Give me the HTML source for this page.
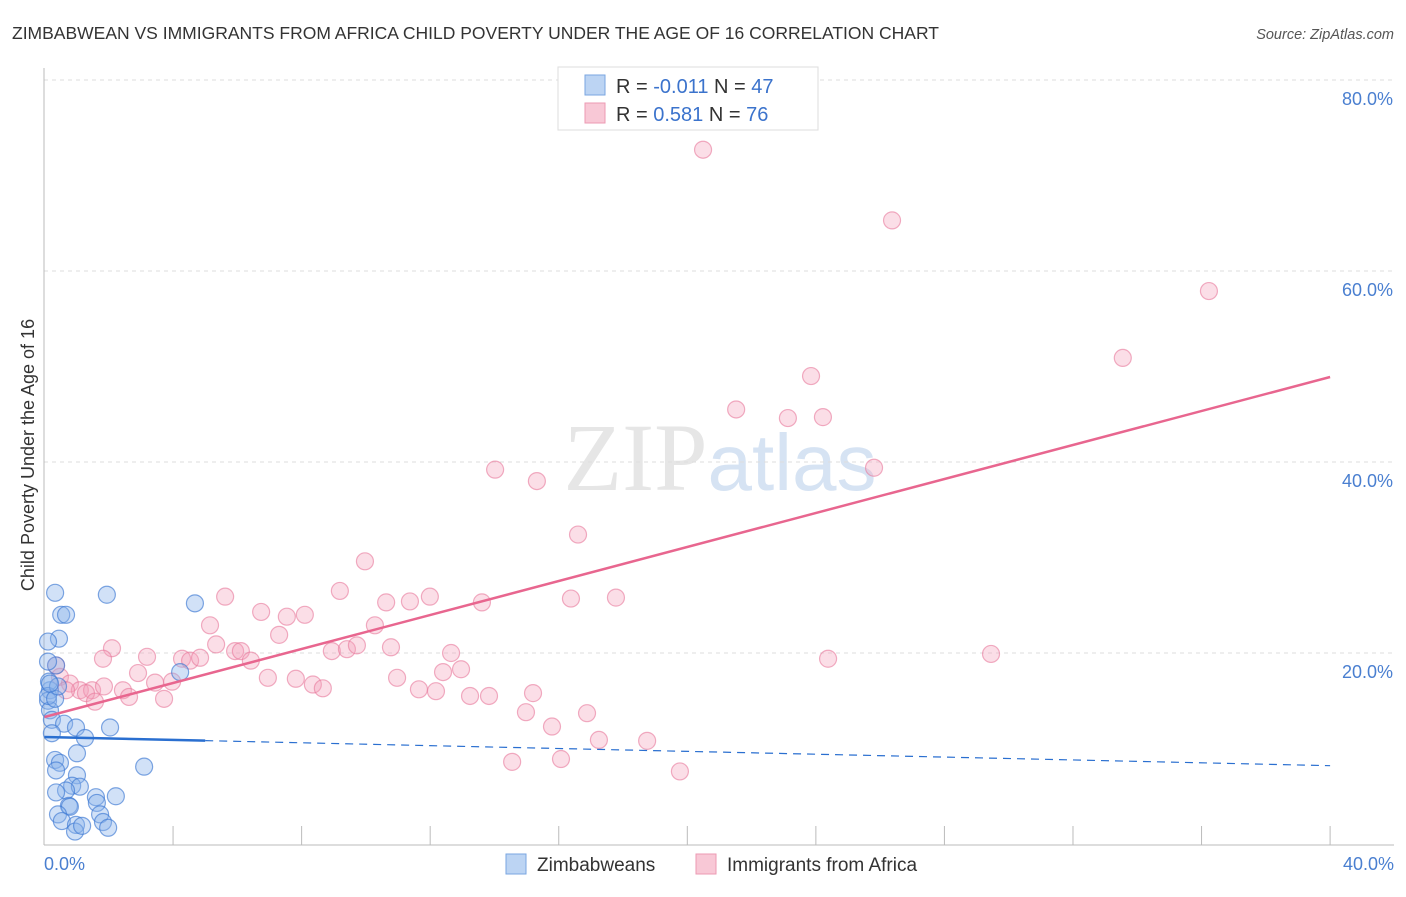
<!DOCTYPE html>
<html><head><meta charset="utf-8"><style>
body{margin:0;background:#fff;font-family:"Liberation Sans",sans-serif;}
svg text{font-family:"Liberation Sans",sans-serif;}
</style></head><body>
<svg id="chart" width="1406" height="892" xmlns="http://www.w3.org/2000/svg">
<text x="12" y="39" font-size="17.5" fill="#333">ZIMBABWEAN VS IMMIGRANTS FROM AFRICA CHILD POVERTY UNDER THE AGE OF 16 CORRELATION CHART</text>
<text x="1394" y="39" font-size="14.5" fill="#555" font-style="italic" text-anchor="end">Source: ZipAtlas.com</text>
<text x="720" y="490" font-size="96" fill="#e6e6e6" text-anchor="middle" font-family="Liberation Serif"><tspan font-family="Liberation Serif">ZIP</tspan><tspan fill="#d6e3f3" font-size="80" font-family="Liberation Sans">atlas</tspan></text>
<g id="grid"></g><g id="ticks"></g>
<line x1="44" y1="68" x2="44" y2="845" stroke="#bbb"/>
<line x1="44" y1="845" x2="1394" y2="845" stroke="#bbb"/>
<text transform="translate(34,455) rotate(-90)" font-size="18" fill="#333" text-anchor="middle">Child Poverty Under the Age of 16</text>
<text x="44" y="870" font-size="18" fill="#4a7fd0">0.0%</text>
<text x="1394" y="870" font-size="18" fill="#4a7fd0" text-anchor="end">40.0%</text>
<g id="pts"></g><g id="lines"></g>
<g>
<rect x="558" y="67" width="260" height="63" fill="#fff" stroke="#ddd"/>
<rect x="585" y="75" width="20" height="20" fill="#bcd4f3" stroke="#7aa6e0"/>
<rect x="585" y="103" width="20" height="20" fill="#f8c8d6" stroke="#ec9ab3"/>
<text x="616" y="93" font-size="20" fill="#333">R = <tspan fill="#3b73cc">-0.011</tspan>   N = <tspan fill="#3b73cc">47</tspan></text>
<text x="616" y="121" font-size="20" fill="#333">R =  <tspan fill="#3b73cc">0.581</tspan>   N = <tspan fill="#3b73cc">76</tspan></text>
</g>
<g>
<rect x="506" y="854" width="20" height="20" fill="#bcd4f3" stroke="#7aa6e0"/>
<text x="537" y="871" font-size="19" fill="#333">Zimbabweans</text>
<rect x="696" y="854" width="20" height="20" fill="#f8c8d6" stroke="#ec9ab3"/>
<text x="727" y="871" font-size="19" fill="#333">Immigrants from Africa</text>
</g>
</svg>
<script>
const yTicks=[20,40,60,80];
const xTickVals=[4,8,12,16,20,24,28,32,36,40];
const blueX=[0.33,0.52,0.67,0.45,0.11,1.94,4.68,0.36,0.17,0.11,0.17,0.14,0.23,0.61,0.98,1.26,2.04,0.23,1.01,4.22,0.33,0.48,0.36,1.01,0.86,1.10,0.67,0.36,0.76,0.79,1.60,1.63,2.22,3.10,0.42,0.54,1.73,1.82,0.98,0.95,1.17,1.98,0.11,0.11,0.33,0.42,0.17];
const blueY=[26.3,24.0,24.0,21.5,21.2,26.1,25.2,18.7,16.1,15.0,14.0,17.0,13.0,12.6,12.2,11.1,12.2,11.6,9.5,18.0,8.8,8.5,7.7,7.2,6.1,6.0,5.6,5.4,4.0,3.9,4.9,4.3,5.0,8.1,3.1,2.4,3.1,2.3,2.0,1.3,1.9,1.7,19.1,15.5,15.2,16.5,16.8];
const pinkX=[20.49,26.37,36.23,33.55,23.85,21.52,23.13,24.22,25.81,14.02,15.32,16.60,9.97,9.19,5.62,6.74,7.54,8.10,10.63,11.37,11.99,13.61,16.38,17.78,5.15,7.30,10.28,2.10,1.82,3.19,4.28,4.53,4.84,5.34,5.93,6.11,6.42,8.94,9.41,9.72,10.78,12.65,24.38,29.45,2.91,3.44,3.97,6.95,7.82,8.35,8.66,10.97,12.40,12.96,11.65,12.18,13.24,13.83,15.20,14.98,16.88,15.79,17.25,18.75,14.55,16.07,19.77,0.36,0.48,0.79,1.10,1.48,0.67,1.29,1.57,2.44,2.63,3.72,1.85];
const pinkY=[72.7,65.3,57.9,50.9,49.0,45.5,44.6,44.7,39.4,39.2,38.0,32.4,29.6,26.5,25.9,24.3,23.8,24.0,25.3,25.4,25.9,25.3,25.7,25.8,22.9,21.9,22.9,20.5,19.4,19.6,19.4,19.2,19.5,20.9,20.2,20.2,19.2,20.2,20.4,20.8,20.6,20.0,19.4,19.9,17.9,16.9,17.0,17.4,17.3,16.7,16.3,17.4,18.0,18.3,16.2,16.0,15.5,15.5,15.8,13.8,13.7,12.3,10.9,10.8,8.6,8.9,7.6,18.7,17.5,16.8,16.1,16.1,16.1,15.8,14.9,16.1,15.4,15.2,16.5];
const pinkTrend=[13.3,48.9];
const blueTrend=[11.2,8.2];
const X=v=>44.5+v*32.14, Y=v=>844-v*9.55;
const NS="http://www.w3.org/2000/svg";
function mk(tag,attrs,parent){const e=document.createElementNS(NS,tag);for(const k in attrs)e.setAttribute(k,attrs[k]);document.getElementById(parent).appendChild(e);return e;}
yTicks.forEach(t=>{
 const l=mk('line',{x1:44,x2:1394,y1:Y(t),y2:Y(t),stroke:'#ddd','stroke-dasharray':'4,4'},'grid');
 
 
 const tx=mk('text',{x:1393,y:Y(t)+25,'font-size':18,fill:'#4a7fd0','text-anchor':'end'},'grid');
 tx.textContent=t.toFixed(1)+'%';
 
 
});
xTickVals.forEach(t=>{
 const l=mk('line',{x1:X(t),x2:X(t),y1:826,y2:845,stroke:'#bbb'},'ticks');
 
 
});
pinkX.forEach((v,i)=>{
 const c=mk('circle',{cx:X(v),cy:Y(pinkY[i]),r:8.5,fill:'rgba(244,160,185,0.35)',stroke:'rgba(232,120,155,0.6)','stroke-width':1.2},'pts');
 
 
});
blueX.forEach((v,i)=>{
 const c=mk('circle',{cx:X(v),cy:Y(blueY[i]),r:8.5,fill:'rgba(140,180,235,0.4)',stroke:'rgba(60,120,210,0.65)','stroke-width':1.2},'pts');
 
 
});
const pl=mk('line',{x1:X(0),y1:Y(pinkTrend[0]),x2:X(40),y2:Y(pinkTrend[1]),stroke:'#e8668f','stroke-width':2.5},'lines');


const bAt=x=>blueTrend[0]+(blueTrend[1]-blueTrend[0])*x/40;
const bl=mk('line',{x1:X(0),y1:Y(bAt(0)),x2:X(5),y2:Y(bAt(5)),stroke:'#2a6fd0','stroke-width':2.5},'lines');


const bd=mk('line',{x1:X(5),y1:Y(bAt(5)),x2:X(40),y2:Y(bAt(40)),stroke:'#2a6fd0','stroke-width':1.2,'stroke-dasharray':'8,6'},'lines');


</script>
</body></html>
